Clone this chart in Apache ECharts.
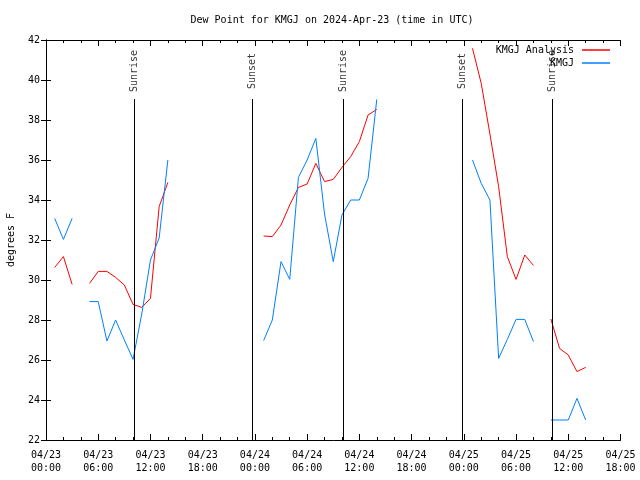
<!DOCTYPE html>
<html>
<head>
<meta charset="utf-8">
<script src="https://cdn.jsdelivr.net/npm/echarts@6/dist/echarts.min.js"></script>
<style>html,body{margin:0;padding:0;background:#fff}#c{width:640px;height:480px}</style>
</head>
<body>
<div id="c"></div>
<script>
// hours since 2024-04-23 00:00 UTC
const hours = [1,2,3,4,5,6,7,8,9,10,11,12,13,14,15,16,17,18,19,20,21,22,23,24,25,26,27,28,29,30,31,32,33,34,35,36,37,38,39,40,41,42,43,44,45,46,47,48,49,50,51,52,53,54,55,56,57,58,59,60,61,62];
const analysis = [30.63,31.17,29.78,null,29.83,30.43,30.43,30.13,29.75,28.78,28.63,29.08,33.67,34.88,
  null,null,null,null,null,null,null,null,null,null,
  32.2,32.17,32.75,33.75,34.63,34.8,35.83,34.92,35.03,35.63,36.17,36.92,38.25,38.53,
  null,null,null,null,null,null,null,null,null,null,
  41.58,39.83,37.3,34.67,31.17,30.03,31.25,30.73,null,28.05,26.58,26.25,25.42,25.63];
const observed = [33.08,32.03,33.08,null,28.92,28.92,26.95,28.0,27.0,26.03,28.3,31.0,32.1,36.0,
  null,null,null,null,null,null,null,null,null,null,
  26.97,28.0,30.92,30.03,35.13,36.0,37.08,33.3,30.92,33.25,34.0,34.0,35.08,39.03,
  null,null,null,null,null,null,null,null,null,null,
  36.0,34.83,34.0,26.08,27.03,28.03,28.03,26.92,null,23.0,23.0,23.0,24.08,23.0];
const sunTimes = [10.12, 23.70, 34.15, 47.87, 58.16];
const sunLabels = ['Sunrise','Sunset','Sunrise','Sunset','Sunrise'];
const xTickLabels = ['04/23\n00:00','04/23\n06:00','04/23\n12:00','04/23\n18:00','04/24\n00:00','04/24\n06:00','04/24\n12:00','04/24\n18:00','04/25\n00:00','04/25\n06:00','04/25\n12:00','04/25\n18:00'];
const yTicks = [22,24,26,28,30,32,34,36,38,40,42];

const FONT = 'DejaVu Sans Mono';
const chart = echarts.init(document.getElementById('c'), null, {renderer:'canvas'});
const tickCommon = {show:true, inside:true, length:6, lineStyle:{color:'#000', width:1}};
const minorCommon = {show:true, splitNumber:3, length:3, lineStyle:{color:'#000', width:1}};
const axisLine = {show:true, lineStyle:{color:'#000', width:1}};
const xBase = {type:'value', min:0, max:66, interval:6, axisLine:axisLine, axisTick:tickCommon,
  minorTick:minorCommon, splitLine:{show:false}, minorSplitLine:{show:false}};
const yBase = {type:'value', min:yTicks[0], max:yTicks[yTicks.length-1], interval:2, axisLine:axisLine,
  axisTick:{show:true, inside:true, length:5, lineStyle:{color:'#000'}}, splitLine:{show:false}};

chart.setOption({
  animation:false,
  backgroundColor:'#fff',
  title:{text:'Dew Point for KMGJ on 2024-Apr-23 (time in UTC)', left:332, top:15, textAlign:'center', padding:0,
    textStyle:{fontFamily:FONT, fontSize:10, fontWeight:'normal', color:'#000'}},
  legend:{data:['KMGJ Analysis','KMGJ'], orient:'vertical', right:30, top:44, align:'right', padding:0,
    icon:'rect', itemWidth:28, itemHeight:1.5, itemGap:1,
    textStyle:{fontFamily:FONT, fontSize:10, color:'#000', lineHeight:12, padding:[0,3,0,0]}},
  grid:{left:46, right:19.5, top:40, bottom:40, containLabel:false, outerBoundsMode:'none'},
  xAxis:[
    Object.assign({}, xBase, {position:'bottom',
      axisLabel:{show:true, margin:8.5, color:'#000', fontFamily:FONT, fontSize:10, lineHeight:13,
        formatter:(v)=> xTickLabels[Math.round(v/6)] || ''}}),
    Object.assign({}, xBase, {position:'top', axisLabel:{show:false}})
  ],
  yAxis:[
    Object.assign({}, yBase, {position:'left', name:'degrees F', nameLocation:'middle', nameGap:30,
      nameRotate:90, nameTextStyle:{fontFamily:FONT, fontSize:10, color:'#000'},
      axisLabel:{show:true, margin:6, color:'#000', fontFamily:FONT, fontSize:10}}),
    Object.assign({}, yBase, {position:'right', axisLabel:{show:false}})
  ],
  series:[
    {name:'sun', type:'line', data:[], silent:true,
      markLine:{symbol:'none', silent:true, label:{show:false},
        lineStyle:{color:'#000', width:1, type:'solid'},
        data: sunTimes.map(t=>[{coord:[t,22]},{coord:[t,39.05]}])}},
    {name:'sunText', type:'scatter', symbolSize:0, silent:true,
      data: sunTimes.map((t,i)=>({value:[t,40.45], label:{formatter:sunLabels[i]}})),
      label:{show:true, position:'inside', rotate:90, color:'#000', fontFamily:FONT, fontSize:10}},
    {name:'KMGJ Analysis', type:'line', data: hours.map((h,i)=>[h, analysis[i]]),
      showSymbol:false, connectNulls:false, color:'#ff0000',
      lineStyle:{color:'#ff0000', width:1}},
    {name:'KMGJ', type:'line', data: hours.map((h,i)=>[h, observed[i]]),
      showSymbol:false, connectNulls:false, color:'#0080ff',
      lineStyle:{color:'#0080ff', width:1}}
  ]
});
</script>
</body>
</html>
